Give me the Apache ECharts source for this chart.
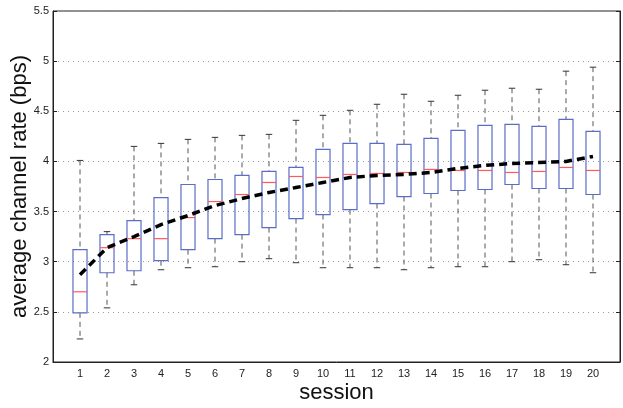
<!DOCTYPE html>
<html>
<head>
<meta charset="utf-8">
<script src="https://cdn.jsdelivr.net/npm/echarts@6/dist/echarts.min.js"></script>
<style>
html,body{margin:0;padding:0;background:#fff;}
#chart{width:623px;height:408px;}
</style>
</head>
<body>
<div id="chart"></div>
<script>
const sessions = [1,2,3,4,5,6,7,8,9,10,11,12,13,14,15,16,17,18,19,20];
const whiskerLow  = [2.23,2.54,2.77,2.92,2.94,2.95,3.00,3.03,2.99,2.94,2.94,2.94,2.92,2.94,2.95,2.95,3.00,3.02,2.97,2.89];
const q1          = [2.49,2.89,2.91,3.01,3.12,3.23,3.27,3.34,3.43,3.47,3.52,3.58,3.65,3.68,3.71,3.72,3.77,3.73,3.73,3.67];
const median      = [2.70,3.14,3.23,3.23,3.44,3.60,3.67,3.79,3.85,3.84,3.87,3.88,3.89,3.92,3.91,3.91,3.89,3.90,3.94,3.91];
const q3          = [3.12,3.27,3.41,3.64,3.77,3.82,3.86,3.90,3.94,4.12,4.18,4.18,4.17,4.23,4.31,4.36,4.37,4.35,4.42,4.30];
const whiskerHigh = [4.01,3.30,4.15,4.18,4.22,4.24,4.26,4.27,4.41,4.46,4.51,4.57,4.67,4.60,4.66,4.71,4.73,4.72,4.90,4.94];
const meanRate    = [2.87,3.14,3.25,3.37,3.46,3.56,3.63,3.69,3.74,3.79,3.84,3.86,3.87,3.89,3.93,3.96,3.98,3.99,4.00,4.05];
const yTicks = [2,2.5,3,3.5,4,4.5,5,5.5];

const boxData = sessions.map((s,i)=>[s, whiskerLow[i], q1[i], median[i], q3[i], whiskerHigh[i]]);
const meanData = sessions.map((s,i)=>[s, meanRate[i]]);

function renderBox(params, api){
  const x = api.value(0);
  const pMin = api.coord([x, api.value(1)]);
  const pQ1  = api.coord([x, api.value(2)]);
  const pMed = api.coord([x, api.value(3)]);
  const pQ3  = api.coord([x, api.value(4)]);
  const pMax = api.coord([x, api.value(5)]);
  const unit = api.size([1,0])[0];
  const half = unit*0.26;
  const cap = unit*0.12;
  const cx = pMed[0];
  const dash = {stroke:'#555', lineWidth:1, lineDash:[5,4]};
  const solid = {stroke:'#333', lineWidth:1};
  return {type:'group', children:[
    {type:'line', shape:{x1:cx,y1:pMax[1],x2:cx,y2:pQ3[1]}, style:dash},
    {type:'line', shape:{x1:cx,y1:pQ1[1],x2:cx,y2:pMin[1]}, style:dash},
    {type:'line', shape:{x1:cx-cap,y1:pMax[1],x2:cx+cap,y2:pMax[1]}, style:solid},
    {type:'line', shape:{x1:cx-cap,y1:pMin[1],x2:cx+cap,y2:pMin[1]}, style:solid},
    {type:'rect', shape:{x:cx-half,y:pQ3[1],width:half*2,height:pQ1[1]-pQ3[1]}, style:{fill:null, stroke:'#5a6cc8', lineWidth:1.2}},
    {type:'line', shape:{x1:cx-half,y1:pMed[1],x2:cx+half,y2:pMed[1]}, style:{stroke:'#ff5a5a', lineWidth:1.2}}
  ]};
}

const chart = echarts.init(document.getElementById('chart'), null, {renderer:'canvas'});
const font = 'Liberation Sans, Arial, sans-serif';
chart.setOption({
  animation:false,
  backgroundColor:'#fff',
  grid:{left:53, right:3, top:11, bottom:46, show:true, borderColor:'#222', borderWidth:1, containLabel:false, outerBoundsMode:'none'},
  xAxis:{
    type:'value', min:0, max:21, interval:1,
    name:'session', nameLocation:'middle', nameGap:20, nameMoveOverlap:false,
    nameTextStyle:{fontFamily:font, fontSize:22, color:'#111'},
    axisLine:{show:true, lineStyle:{color:'#222'}},
    axisTick:{show:false},
    splitLine:{show:false},
    axisLabel:{fontFamily:font, fontSize:11, color:'#222', margin:6,
      formatter:v => (v>=1 && v<=20) ? String(v) : ''}
  },
  yAxis:[{
    type:'value', min:2, max:5.5, interval:0.5,
    name:'average channel rate (bps)', nameLocation:'middle', nameGap:22, nameMoveOverlap:false,
    nameTextStyle:{fontFamily:font, fontSize:22, color:'#111'},
    axisLine:{show:true, lineStyle:{color:'#222'}},
    axisTick:{show:true, inside:true, length:4, lineStyle:{color:'#222'}},
    splitLine:{show:true, lineStyle:{color:'#999', type:[1,4], width:1}},
    axisLabel:{fontFamily:font, fontSize:11, color:'#222', margin:4,
      formatter:v => String(v)}
  },{
    type:'value', min:2, max:5.5, interval:0.5, position:'right',
    axisLine:{show:true, lineStyle:{color:'#222'}},
    axisTick:{show:true, inside:true, length:4, lineStyle:{color:'#222'}},
    splitLine:{show:false},
    axisLabel:{show:false}
  }],
  series:[{
    type:'custom',
    renderItem:renderBox,
    data:boxData,
    encode:{x:0, y:[1,2,3,4,5]},
    z:2
  },{
    type:'line',
    data:meanData,
    showSymbol:false,
    symbol:'none',
    lineStyle:{color:'#000', width:3.5, type:[8,5]},
    z:5
  }]
});
</script>
</body>
</html>
